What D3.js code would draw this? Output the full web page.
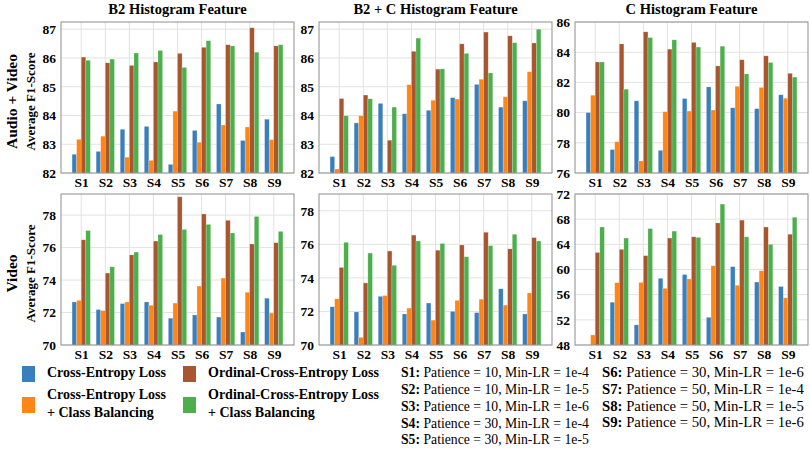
<!DOCTYPE html>
<html><head><meta charset="utf-8">
<script src="https://cdn.jsdelivr.net/npm/d3@7"></script>
<style>
body{margin:0;background:#fff;}
svg{display:block;}
svg text{font-family:"Liberation Serif","Times New Roman","DejaVu Serif",serif;}
</style></head>
<body><svg id="c" width="810" height="449"></svg>
<script>
const settings = ["S1","S2","S3","S4","S5","S6","S7","S8","S9"];
const seriesNames = ["Cross-Entropy Loss","Cross-Entropy Loss + Class Balancing","Ordinal-Cross-Entropy Loss","Ordinal-Cross-Entropy Loss + Class Balancing"];
const colTitles = ["B2 Histogram Feature","B2 + C Histogram Feature","C Histogram Feature"];
const rowTitles = ["Audio + Video","Video"];
const settingDesc = ["Patience = 10, Min-LR = 1e-4","Patience = 10, Min-LR = 1e-5","Patience = 10, Min-LR = 1e-6","Patience = 30, Min-LR = 1e-4","Patience = 30, Min-LR = 1e-5","Patience = 30, Min-LR = 1e-6","Patience = 50, Min-LR = 1e-4","Patience = 50, Min-LR = 1e-5","Patience = 50, Min-LR = 1e-6"];

// series order: CE, CE+CB, OCE, OCE+CB
const avB2 = [
  [82.65,82.75,83.52,83.62,82.30,83.48,84.40,83.13,83.87],
  [83.17,83.28,82.55,82.44,84.15,83.07,83.67,83.60,83.16],
  [86.03,85.83,85.74,85.86,86.16,86.37,86.46,87.05,86.42],
  [85.92,85.96,86.17,86.26,85.67,86.60,86.42,86.20,86.46]];
const avB2C = [
  [82.57,83.74,84.42,84.06,84.18,84.62,85.08,84.29,84.51],
  [82.14,83.99,81.90,85.07,84.53,84.57,85.26,84.65,85.52],
  [84.59,84.71,83.14,86.23,85.61,86.49,86.90,86.77,86.52],
  [83.99,84.58,84.29,86.69,85.62,86.16,85.48,86.53,87.00]];
const avC = [
  [80.00,77.55,80.78,77.50,80.93,81.70,80.32,80.26,81.18],
  [81.15,78.07,76.80,80.06,80.10,80.17,81.74,81.67,80.95],
  [83.35,84.55,85.35,84.20,84.65,83.09,83.50,83.76,82.60],
  [83.35,81.55,84.97,84.82,84.34,84.40,82.56,83.32,82.35]];
const vB2 = [
  [72.65,72.18,72.55,72.65,71.65,71.85,71.72,70.80,72.88],
  [72.75,72.12,72.65,72.45,72.58,73.63,74.12,73.25,71.97],
  [76.48,74.43,75.55,76.40,79.13,78.07,77.68,76.22,76.30],
  [77.05,74.82,75.72,76.80,77.12,77.43,76.90,77.92,77.00]];
const vB2C = [
  [72.28,71.97,72.90,71.85,72.50,72.00,71.93,73.35,71.85],
  [72.75,70.46,72.95,72.20,71.48,72.66,72.73,72.38,73.10],
  [74.62,73.70,75.60,76.55,75.65,75.96,76.72,75.73,76.40],
  [76.12,75.48,74.75,76.20,76.05,75.26,75.92,76.60,76.20]];
const vC = [
  [47.50,54.80,51.20,58.60,59.20,52.40,60.45,58.00,57.30],
  [49.60,57.90,57.95,57.00,58.50,60.60,57.50,59.80,55.50],
  [62.70,63.20,62.20,65.00,65.20,67.40,67.85,66.75,65.60],
  [66.75,65.00,66.50,66.10,65.10,70.40,65.20,64.00,68.30]];

const yDomains = [[82,87.25],[82,87.25],[76,86],[70,79.3],[70,79.0],[48,72]];
const yTicks = [[82,83,84,85,86,87],[82,83,84,85,86,87],[76,78,80,82,84,86],[70,72,74,76,78],[70,72,74,76,78],[48,52,56,60,64,68,72]];
const panelData = [avB2, avB2C, avC, vB2, vB2C, vC];

const colors = ["#3a7fbd","#ff8616","#a8562f","#4caf4c"];
const FONT = "Liberation Serif, Times New Roman, DejaVu Serif, serif";
const svg = d3.select("#c");
const colX = [61, 319, 575], rowY = [22, 194], pw = 233, ph = 151;
const barW = 0.19;

panelData.forEach((data, p) => {
  const c = p % 3, r = Math.floor(p / 3);
  const g = svg.append("g").attr("transform", `translate(${colX[c]},${rowY[r]})`);
  const x = d3.scaleLinear().domain([-0.84, 8.84]).range([0, pw]);
  const y = d3.scaleLinear().domain(yDomains[p]).range([ph, 0]);
  g.append("g").selectAll("line").data(yTicks[p]).join("line")
    .attr("x1",0).attr("x2",pw).attr("y1",d=>y(d)).attr("y2",d=>y(d))
    .attr("stroke","#e2e2e2").attr("stroke-width",1);
  g.append("g").selectAll("line").data(settings).join("line")
    .attr("x1",(d,i)=>x(i)).attr("x2",(d,i)=>x(i)).attr("y1",0).attr("y2",ph)
    .attr("stroke","#e2e2e2").attr("stroke-width",1);
  const lo = yDomains[p][0], hi = yDomains[p][1];
  data.forEach((vals, s) => {
    g.append("g").selectAll("rect").data(vals).join("rect")
      .attr("x",(d,i)=>x(i + (s - 1.5) * barW - barW/2))
      .attr("width", x(barW) - x(0))
      .attr("y", d => y(Math.min(Math.max(d, lo), hi)))
      .attr("height", d => ph - y(Math.min(Math.max(d, lo), hi)))
      .attr("fill", colors[s])
      .attr("stroke", "rgba(255,255,255,0.35)").attr("stroke-width",0.6);
  });
  const ya = d3.axisLeft(y).tickValues(yTicks[p]).tickSize(0).tickPadding(5).tickFormat(d3.format("d"));
  const yg = g.append("g").call(ya).attr("font-family", FONT);
  yg.select(".domain").remove();
  yg.selectAll("text").attr("font-size",13.5).attr("font-weight","bold").attr("fill","#000");
  const xa = d3.axisBottom(x).tickValues(d3.range(9)).tickSize(0).tickPadding(4).tickFormat(i=>settings[i]);
  const xg = g.append("g").attr("transform",`translate(0,${ph})`).call(xa).attr("font-family", FONT);
  xg.select(".domain").remove();
  xg.selectAll("text").attr("font-size",13.5).attr("font-weight","bold").attr("fill","#000");
  g.append("rect").attr("x",0).attr("y",0).attr("width",pw).attr("height",ph)
    .attr("fill","none").attr("stroke","#8e8e8e").attr("stroke-width",1);
  if (r === 0) {
    g.append("text").attr("x",pw/2).attr("y",-8).attr("text-anchor","middle")
      .attr("font-size",14.5).attr("font-weight","bold").text(colTitles[c]);
  }
});

rowTitles.forEach((t, r) => {
  const cy = rowY[r] + ph/2 + 4;
  svg.append("text").attr("transform",`translate(13,${cy}) rotate(-90)`)
    .attr("text-anchor","middle").attr("dominant-baseline","middle")
    .attr("font-size",15.5).attr("font-weight","bold").text(t);
  svg.append("text").attr("transform",`translate(32,${cy}) rotate(-90)`)
    .attr("text-anchor","middle").attr("dominant-baseline","middle")
    .attr("font-size",13).attr("font-weight","bold").text("Average F1-Score");
});

const leg = svg.append("g");
const legPos = [[22,366,false],[22,397,true],[183,366,false],[183,397,true]];
seriesNames.forEach((n, i) => {
  const [lx, ly, two] = legPos[i];
  leg.append("rect").attr("x",lx).attr("y",ly).attr("width",13).attr("height",16).attr("fill",colors[i]);
  if (!two) {
    leg.append("text").attr("x",lx+25).attr("y",ly+8).attr("dominant-baseline","middle")
      .attr("font-size",14).attr("font-weight","bold").text(n);
  } else {
    const parts = n.split(" + ");
    leg.append("text").attr("x",lx+25).attr("y",ly-1).attr("dominant-baseline","middle")
      .attr("font-size",14).attr("font-weight","bold").text(parts[0]);
    leg.append("text").attr("x",lx+25).attr("y",ly+17).attr("dominant-baseline","middle")
      .attr("font-size",14).attr("font-weight","bold").text("+ " + parts[1]);
  }
});
settings.forEach((s, i) => {
  const cx = i < 5 ? 401 : 602;
  const cy = 374 + (i < 5 ? i : i - 5) * 16.8;
  const target = i < 5 ? 188 : 202;
  const gt = leg.append("g");
  const t = gt.append("text").attr("x",0).attr("y",0).attr("dominant-baseline","middle")
    .attr("font-size",15);
  t.append("tspan").attr("font-weight","bold").text(s + ":");
  t.append("tspan").text(" " + settingDesc[i]);
  const natural = t.node().getComputedTextLength() || target;
  gt.attr("transform", `translate(${cx},${cy}) scale(${target / natural},1)`);
});
</script></body></html>
